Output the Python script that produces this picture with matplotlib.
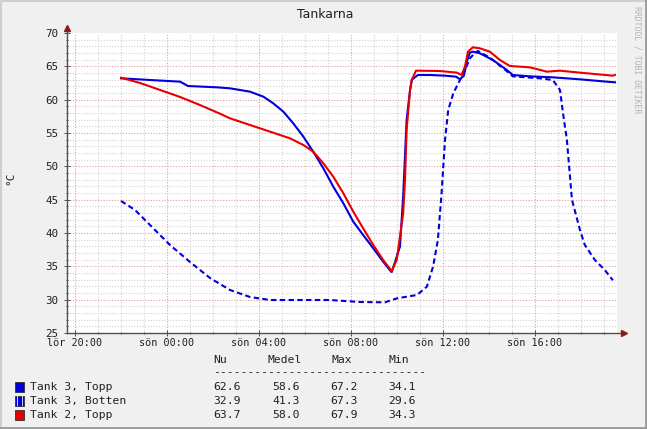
import numpy as np
import matplotlib
matplotlib.use("Agg")
from matplotlib import pyplot as plt
from matplotlib.patches import Rectangle
from matplotlib.ticker import MultipleLocator

# data: hours after Saturday 20:00, temperature in degrees C
topp3_t = [2.0, 3.26, 4.57, 4.91, 6.17, 6.74, 7.61, 8.19, 8.62, 9.06, 9.49, 9.93, 10.36, 10.80,
           11.23, 11.67, 12.10, 12.53, 12.97, 13.40, 13.77, 14.13, 14.27, 14.42, 14.57, 14.65,
           14.91, 15.43, 16.09, 16.57, 16.74, 16.91, 17.04, 17.17, 17.30, 17.61, 18.17, 18.78,
           19.04, 19.78, 20.78, 21.96, 23.13, 23.48]
topp3_v = [63.2, 62.95, 62.7, 62.05, 61.85, 61.7, 61.2, 60.45, 59.45, 58.2, 56.45, 54.45, 52.2,
           49.7, 46.95, 44.45, 41.7, 39.7, 37.7, 35.7, 34.1, 37.95, 45.45, 56.95, 61.45, 63.0,
           63.7, 63.7, 63.6, 63.45, 63.05, 63.6, 65.7, 67.05, 67.2, 66.95, 65.95, 64.45,
           63.7, 63.5, 63.35, 63.05, 62.7, 62.6]

botten3_t = [2.0, 2.61, 3.26, 4.13, 5.0, 5.87, 6.74, 7.61, 8.48, 11.09, 12.39, 13.48, 14.0,
             14.87, 15.30, 15.57, 15.78, 15.94, 16.09, 16.23, 16.45, 16.74, 16.96, 17.17, 17.39,
             17.52, 18.04, 18.70, 19.04, 20.22, 20.78, 21.09, 21.22, 21.39, 21.61, 21.96, 22.17,
             22.61, 23.04, 23.39]
botten3_v = [44.8, 43.45, 41.2, 38.2, 35.65, 33.25, 31.45, 30.4, 29.95, 29.95, 29.65, 29.6, 30.2,
             30.7, 31.95, 34.95, 38.95, 45.95, 53.95, 58.45, 60.95, 62.95, 64.45, 66.2, 67.0,
             67.3, 66.3, 64.5, 63.5, 63.2, 62.95, 61.45, 58.0, 54.0, 45.0, 40.45, 38.2,
             35.95, 34.45, 32.9]

topp2_t = [2.0, 2.83, 3.70, 4.57, 5.43, 6.30, 6.74, 7.61, 8.48, 9.35, 9.93, 10.36, 10.80, 11.23,
           11.67, 12.10, 12.53, 12.97, 13.40, 13.77, 13.99, 14.13, 14.27, 14.35, 14.42, 14.57,
           14.64, 14.83, 15.87, 16.61, 16.81, 16.96, 17.09, 17.30, 17.61, 18.04, 18.48, 18.91,
           19.78, 20.52, 21.09, 21.96, 23.39, 23.48]
topp2_v = [63.3, 62.5, 61.45, 60.4, 59.2, 57.9, 57.2, 56.2, 55.2, 54.2, 53.2, 52.2, 50.45, 48.45,
           45.95, 43.2, 40.7, 38.2, 35.95, 34.3, 35.95, 39.45, 42.95, 47.95, 55.45, 61.45,
           62.95, 64.35, 64.3, 64.05, 63.7, 65.0, 67.2, 67.85, 67.7, 67.2, 65.95, 65.05,
           64.85, 64.2, 64.35, 64.05, 63.6, 63.7]

tick_hours = [0, 4, 8, 12, 16, 20]
tick_labels = ["lör 20:00", "sön 00:00", "sön 04:00", "sön 08:00", "sön 12:00", "sön 16:00"]

legend_names = ["Tank 3, Topp", "Tank 3, Botten", "Tank 2, Topp"]
legend_cols = ["Nu", "Medel", "Max", "Min"]
legend_vals = [["62.6", "58.6", "67.2", "34.1"],
               ["32.9", "41.3", "67.3", "29.6"],
               ["63.7", "58.0", "67.9", "34.3"]]

W, H = 647, 429
BLUE = "#0000dd"
RED = "#e80000"
MONO = "DejaVu Sans Mono"


def fx(x):
    return x / W


def fy(y):
    return 1 - y / H


fig = plt.figure(figsize=(W / 100, H / 100), dpi=100, facecolor="#f0f0f0")

# canvas border (3d look)
bg = fig.add_axes([0, 0, 1, 1])
bg.set_xlim(0, W)
bg.set_ylim(H, 0)
bg.axis("off")
bg.plot([0, W], [1, 1], color="#cfcfcf", lw=1.5)
bg.plot([1, 1], [0, H], color="#cfcfcf", lw=1.5)
bg.plot([0, W], [H - 1.5, H - 1.5], color="#9a9a9a", lw=2)
bg.plot([W - 1.5, W - 1.5], [0, H], color="#9a9a9a", lw=2)

# plot area: x 67..617, y 33..333
ax = fig.add_axes([fx(67), fy(333), 550 / W, 300 / H])
ax.set_facecolor("white")
ax.set_xlim(-0.35, 23.57)
ax.set_ylim(25, 70)

for h in range(0, 24):
    major = h % 4 == 0
    ax.axvline(h, color="#e0a0a0" if major else "#d8d0d0", lw=0.8,
               ls=(0, (1, 1.5)), zorder=1)
for v in range(26, 70):
    major = v % 5 == 0
    ax.axhline(v, color="#e0a0a0" if major else "#d8d0d0", lw=0.8,
               ls=(0, (1, 1.5)), zorder=1)

ax.plot(topp3_t, topp3_v, color=BLUE, lw=1.5, zorder=3, solid_joinstyle="miter")
ax.plot(botten3_t, botten3_v, color=BLUE, lw=1.5, zorder=3, dashes=(2.6, 1.6))
ax.plot(topp2_t, topp2_v, color=RED, lw=1.5, zorder=4, solid_joinstyle="miter")

for s in ax.spines.values():
    s.set_visible(False)

ax.set_xticks(tick_hours)
ax.set_xticklabels(tick_labels, fontfamily=MONO, fontsize=7.3)
ax.xaxis.set_minor_locator(MultipleLocator(1))
ax.yaxis.set_major_locator(MultipleLocator(5))
ax.yaxis.set_minor_locator(MultipleLocator(1))
ax.tick_params(axis="both", which="major", direction="inout", length=4, width=0.7,
               color="#505050", colors="#202020", pad=1.5)
ax.tick_params(axis="both", which="minor", direction="inout", length=2, width=0.7,
               color="#505050")
ax.tick_params(axis="y", labelsize=7.8, pad=4)
for lab in ax.get_yticklabels():
    lab.set_fontfamily(MONO)

# axes with arrows
ax.plot([0, 1.01], [0, 0], transform=ax.transAxes, color="#505050", lw=1, clip_on=False, zorder=5)
ax.plot([0, 0], [0, 1.01], transform=ax.transAxes, color="#505050", lw=1, clip_on=False, zorder=5)
ax.plot([1.012], [0], transform=ax.transAxes, marker=">", ms=4, color="#8b1a1a",
        clip_on=False, zorder=6)
ax.plot([0], [1.018], transform=ax.transAxes, marker="^", ms=4, color="#8b1a1a",
        clip_on=False, zorder=6)

# title, unit, watermark
fig.text(fx(325), fy(14), "Tankarna", ha="center", va="center", fontsize=9, color="#202020")
fig.text(fx(10), fy(178), "°C", rotation=90, ha="center", va="center", fontsize=8,
         fontfamily=MONO, color="#202020")
fig.text(fx(637), fy(60), "RRDTOOL / TOBI OETIKER", rotation=270, ha="center", va="center",
         fontsize=5.9, fontfamily=MONO, color="#b4b4b4")

# legend
col_x = [213, 268, 332, 388]
for x, name in zip(col_x, legend_cols):
    fig.text(fx(x), fy(360), name, ha="left", va="center", fontsize=8.2, fontfamily=MONO,
             color="#202020")
fig.text(fx(213), fy(372), "-" * 31, ha="left", va="center", fontsize=8.2, fontfamily=MONO,
         color="#202020")

row_y = [387, 401, 415]
row_cols = [BLUE, BLUE, RED]
val_x = [213, 272, 330, 388]
for i, (name, c, y) in enumerate(zip(legend_names, row_cols, row_y)):
    bg.add_patch(Rectangle((15, y - 5), 9, 10, facecolor=c, edgecolor="#303030", lw=0.6))
    if i == 1:
        for dx in (1.5, 6.5):
            bg.add_patch(Rectangle((15 + dx, y - 5), 1.2, 10, facecolor="white",
                                   edgecolor="none", alpha=0.8))
    fig.text(fx(30), fy(y), name, ha="left", va="center", fontsize=8.2, fontfamily=MONO,
             color="#202020")
    for x, v in zip(val_x, legend_vals[i]):
        fig.text(fx(x), fy(y), v, ha="left", va="center", fontsize=8.2, fontfamily=MONO,
                 color="#202020")

fig.savefig("out.png", dpi=100, facecolor=fig.get_facecolor())
